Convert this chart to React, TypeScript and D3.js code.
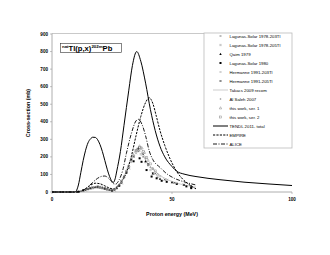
import React from "react";
import * as d3 from "d3";

type Pt = [number, number];

// model curves (energy MeV, cross-section mb)
const tendl: Pt[] = [
  [0, 0], [9.5, 0], [10, 4], [11, 40], [12, 110], [13, 180], [14, 238], [15, 280], [16, 302], [17, 312],
  [18, 311], [19, 298], [20, 270], [21, 230], [22, 180], [23, 130], [24, 88], [25, 60], [25.6, 55],
  [26.3, 75], [27, 120], [28.5, 230], [30, 380], [32, 580], [33.5, 720], [35.3, 800], [37, 745],
  [39, 620], [41, 470], [43, 350], [45, 260], [47, 200], [50, 145], [52, 118], [55, 102], [60, 88],
  [70, 70], [80, 56], [90, 46], [100, 37],
];
const empire: Pt[] = [
  [0, 0], [10, 0], [12, 4], [14, 18], [16, 38], [18, 50], [20, 47], [22, 35], [24, 22], [25.5, 18],
  [27, 30], [29, 60], [31, 110], [33, 200], [35, 320], [37, 430], [39, 510], [40.5, 537], [42, 505],
  [43.5, 430], [45, 350], [47, 265], [49, 195], [52, 116], [55, 66], [58, 34], [60, 18],
];
const alice: Pt[] = [
  [0, 0], [11, 0], [13, 10], [15, 30], [17, 55], [19, 78], [21, 90], [22, 91], [23, 85], [24.5, 65],
  [25.5, 48], [26.5, 45], [28, 70], [29.5, 125], [31, 220], [33, 330], [35, 405], [36, 414],
  [37.5, 385], [39, 320], [40.5, 235], [42, 185], [45, 140], [48, 102], [51, 78], [55, 58], [60, 40],
];
const takacs: Pt[] = [
  [10, 0], [14, 12], [18, 26], [21, 24], [24, 14], [26, 15], [28, 40], [30, 90], [32, 160],
  [34, 220], [35.5, 245], [37, 232], [39, 182], [42, 130], [45, 95], [50, 60], [55, 40], [60, 28],
];

// experimental data
const lagunas78a: Pt[] = [
  [12, 3], [14, 12], [16, 20], [18, 24], [20, 22], [22, 15], [24, 10], [26, 14], [28, 40], [30, 90],
  [32, 150], [34, 205], [36, 230], [38, 200], [40, 150], [42, 110], [44, 85],
];
const lagunas78b: Pt[] = [
  [13, 6], [15, 15], [17, 22], [19, 26], [21, 20], [23, 12], [25, 10], [27, 25], [29, 65], [31, 120],
  [33, 180], [35, 225], [37, 215], [39, 170], [41, 125],
];
const qaim: Pt[] = [
  [15, 18], [18, 28], [21, 25], [24, 12], [27, 22], [30, 85], [33, 185], [36, 250], [39, 175],
  [42, 105], [45, 75], [50, 55], [55, 40], [58, 30],
];
const lagunas80: Pt[] = [
  [11, 2], [13, 10], [16, 22], [19, 30], [22, 20], [25, 8], [28, 35], [31, 110], [34, 175], [36.5, 192],
  [37.3, 172], [39.4, 125], [41.5, 88], [43.6, 78], [45.7, 64], [47.8, 58], [52, 46], [56, 32], [58, 22],
];
const hermanne203: Pt[] = [
  [20, 25], [23, 15], [26, 12], [29, 55], [32, 140], [35, 220], [37, 255], [39, 200], [42, 130],
  [45, 90], [48, 70], [52, 50], [55, 40],
];
const hermanne205: Pt[] = [
  [14, 10], [17, 26], [20, 30], [23, 18], [26, 10], [29, 50], [32, 135], [34, 200], [36, 240],
  [38, 215], [40, 160], [43, 105], [47, 70], [51, 52], [55, 42], [58, 35],
];
const alSaleh: Pt[] = [
  [12, 4], [15, 16], [18, 28], [21, 24], [24, 12], [27, 18], [30, 80], [33, 170], [35, 235], [37, 245],
  [39, 190], [41, 140],
];
const ser1: Pt[] = [
  [16, 20], [19, 28], [22, 22], [25, 12], [28, 40], [30, 85], [32, 150], [34, 210], [35.5, 245],
  [36.5, 262], [37.5, 250], [38.5, 225], [40, 180], [42, 135], [44, 100],
];
const ser2: Pt[] = [
  [17, 24], [20, 27], [23, 16], [26, 14], [29, 60], [31, 115], [33, 185], [35, 235], [36.5, 255],
  [38, 230], [39.5, 195], [41, 160], [43, 120],
];

const xTicks = [0, 50, 100];
const yTicks = [0, 100, 200, 300, 400, 500, 600, 700, 800, 900];

const legendLabels = [
  "Lagunas-Solar 1978-203Tl",
  "Lagunas-Solar 1978-205Tl",
  "Qaim 1979",
  "Lagunas-Solar 1980",
  "Hermanne 1991-203Tl",
  "Hermanne 1991-205Tl",
  "Takacs 2009 recom",
  "Al Saleh 2007",
  "this work, ser. 1",
  "this work, ser. 2",
  "TENDL 2011- total",
  "EMPIRE",
  "ALICE",
];

const font = "Arial, 'Liberation Sans', sans-serif";

function Marker({ kind, x, y }: { kind: string; x: number; y: number }) {
  switch (kind) {
    case "dash":
      return <line x1={x - 1} x2={x + 1} y1={y} y2={y} stroke="#555" strokeWidth={0.8} />;
    case "eq":
      return (
        <g stroke="#888" strokeWidth={0.5}>
          <line x1={x - 1.1} x2={x + 1.1} y1={y - 0.6} y2={y - 0.6} />
          <line x1={x - 1.1} x2={x + 1.1} y1={y + 0.6} y2={y + 0.6} />
        </g>
      );
    case "tri":
      return <path d={`M${x},${y - 1.3}L${x + 1.2},${y + 0.9}L${x - 1.2},${y + 0.9}Z`} fill="#000" />;
    case "sq":
      return <rect x={x - 1} y={y - 1} width={2} height={2} fill="#000" />;
    case "xg":
      return (
        <g stroke="#999" strokeWidth={0.5}>
          <line x1={x - 1} x2={x + 1} y1={y - 1} y2={y + 1} />
          <line x1={x - 1} x2={x + 1} y1={y + 1} y2={y - 1} />
        </g>
      );
    case "xb":
      return (
        <g stroke="#222" strokeWidth={0.6}>
          <line x1={x - 1} x2={x + 1} y1={y - 1} y2={y + 1} />
          <line x1={x - 1} x2={x + 1} y1={y + 1} y2={y - 1} />
        </g>
      );
    case "plus":
      return (
        <g stroke="#888" strokeWidth={0.5}>
          <line x1={x - 1} x2={x + 1} y1={y} y2={y} />
          <line x1={x} x2={x} y1={y - 1} y2={y + 1} />
        </g>
      );
    case "otri":
      return (
        <path d={`M${x},${y - 1.3}L${x + 1.2},${y + 0.9}L${x - 1.2},${y + 0.9}Z`} fill="none" stroke="#888" strokeWidth={0.5} />
      );
    case "osq":
      return <rect x={x - 1} y={y - 1} width={2} height={2} fill="none" stroke="#888" strokeWidth={0.5} />;
    default:
      return null;
  }
}

export default function App() {
  const width = 330;
  const height = 255;
  const m = { left: 52, right: 38, top: 34, bottom: 63 };

  const x = d3.scaleLinear().domain([0, 100]).range([m.left, width - m.right]);
  const y = d3.scaleLinear().domain([0, 900]).range([height - m.bottom, m.top]);

  const line = d3
    .line<Pt>()
    .x((d) => x(d[0]))
    .y((d) => y(d[1]))
    .curve(d3.curveMonotoneX);

  const scatter = [
    { data: lagunas78a, kind: "dash" },
    { data: lagunas78b, kind: "eq" },
    { data: qaim, kind: "tri" },
    { data: lagunas80, kind: "sq" },
    { data: hermanne203, kind: "xg" },
    { data: hermanne205, kind: "xb" },
    { data: alSaleh, kind: "plus" },
    { data: ser1, kind: "otri" },
    { data: ser2, kind: "osq" },
  ];

  const legendKinds = ["dash", "eq", "tri", "sq", "xg", "xb", "takacs", "plus", "otri", "osq", "tendl", "empire", "alice"];
  const lineStyles: Record<string, { stroke: string; w: number; dash?: string }> = {
    takacs: { stroke: "#999", w: 0.5 },
    tendl: { stroke: "#000", w: 1 },
    empire: { stroke: "#000", w: 1, dash: "2.2,1.2" },
    alice: { stroke: "#000", w: 0.9, dash: "4,1.5,1,1.5" },
  };

  const lx0 = 204;
  const lx1 = width - m.right;
  const ly0 = 33;
  const ly1 = 148;

  return (
    <svg width={width} height={height} style={{ position: "absolute", left: 0, top: 0, background: "#fff" }}>
      {/* frame */}
      <line x1={m.left} x2={lx1} y1={m.top - 0.5} y2={m.top - 0.5} stroke="#bbb" strokeWidth={0.8} />
      <line x1={m.left} x2={m.left} y1={m.top - 0.5} y2={y(0)} stroke="#999" strokeWidth={0.8} />
      <line x1={m.left} x2={lx1} y1={y(0)} y2={y(0)} stroke="#999" strokeWidth={0.8} />

      {yTicks.map((t) => (
        <g key={t}>
          <line x1={m.left - 2} x2={m.left} y1={y(t)} y2={y(t)} stroke="#999" strokeWidth={0.6} />
          <text x={m.left - 4} y={y(t) + 1.6} textAnchor="end" fontSize={4.6} fontWeight="bold" fontFamily={font}>
            {t}
          </text>
        </g>
      ))}
      {xTicks.map((t) => (
        <g key={t}>
          <line x1={x(t)} x2={x(t)} y1={y(0)} y2={y(0) + 2} stroke="#999" strokeWidth={0.6} />
          <text x={x(t)} y={y(0) + 9} textAnchor="middle" fontSize={4.6} fontWeight="bold" fontFamily={font}>
            {t}
          </text>
        </g>
      ))}

      <text x={x(50)} y={216} textAnchor="middle" fontSize={5.3} fontWeight="bold" fontFamily={font}>
        Proton energy (MeV)
      </text>
      <text
        transform={`translate(30,${(y(0) + m.top) / 2}) rotate(-90)`}
        textAnchor="middle"
        fontSize={5.3}
        fontWeight="bold"
        fontFamily={font}
      >
        Cross-section (mb)
      </text>

      {/* model curves */}
      <path d={line(takacs) ?? ""} fill="none" stroke="#999" strokeWidth={0.5} />
      <path d={line(alice) ?? ""} fill="none" stroke="#000" strokeWidth={0.9} strokeDasharray="4,1.5,1,1.5" />
      <path d={line(empire) ?? ""} fill="none" stroke="#000" strokeWidth={1} strokeDasharray="2.2,1.2" />
      <path d={line(tendl) ?? ""} fill="none" stroke="#000" strokeWidth={1} />

      {/* experimental points */}
      {scatter.map((s) =>
        s.data.map((d, i) => <Marker key={s.kind + i} kind={s.kind} x={x(d[0])} y={y(d[1])} />)
      )}

      {/* title box */}
      <rect x={60.5} y={43.5} width={61} height={9} fill="#fff" stroke="#333" strokeWidth={0.6} />
      <text x={62} y={51} fontFamily={font} fontWeight="bold" fontSize={7.6}>
        <tspan fontSize={4.4} dy={-3}>nat</tspan>
        <tspan dy={3}>Tl(p,x)</tspan>
        <tspan fontSize={4.4} dy={-3}>202m</tspan>
        <tspan dy={3}>Pb</tspan>
      </text>

      {/* legend */}
      <rect x={lx0} y={ly0} width={lx1 - lx0} height={ly1 - ly0} fill="#fff" stroke="#bbb" strokeWidth={0.8} />
      {legendLabels.map((lab, i) => {
        const ly = 36 + i * 9;
        const k = legendKinds[i];
        const ls = lineStyles[k];
        return (
          <g key={lab}>
            {ls ? (
              <line x1={213} x2={228} y1={ly} y2={ly} stroke={ls.stroke} strokeWidth={ls.w} strokeDasharray={ls.dash} />
            ) : (
              <Marker kind={k} x={220.5} y={ly} />
            )}
            <text x={229.5} y={ly + 1.5} fontSize={4.3} fontFamily={font} fill="#000">
              {lab}
            </text>
          </g>
        );
      })}
    </svg>
  );
}
